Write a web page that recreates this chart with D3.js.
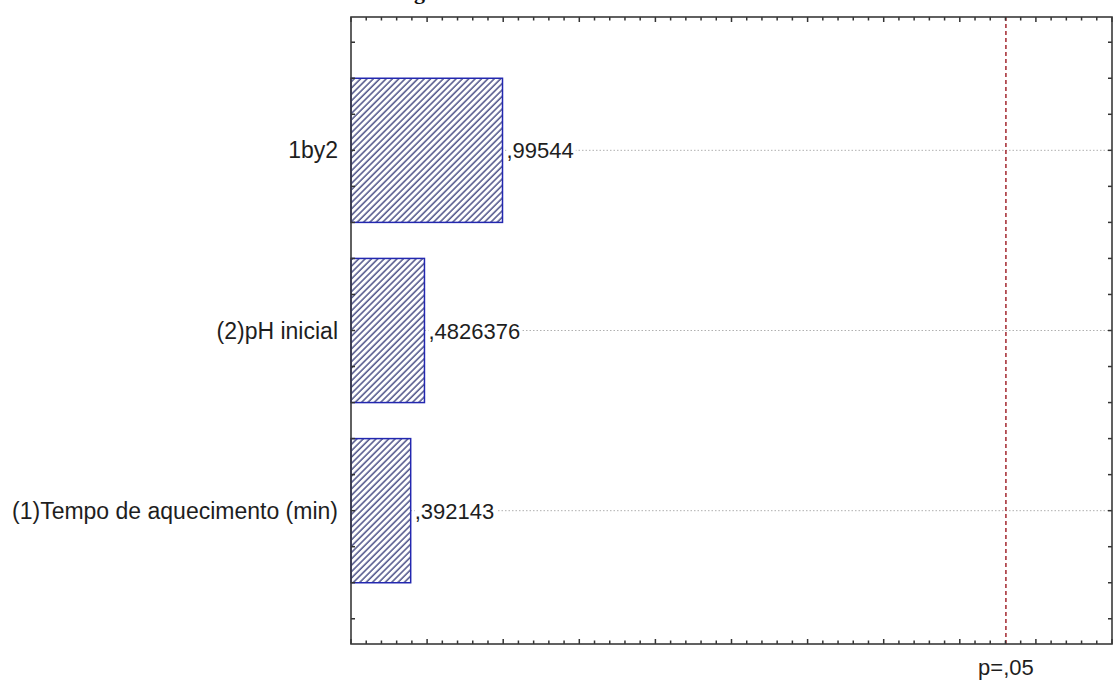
<!DOCTYPE html>
<html lang="pt">
<head>
<meta charset="UTF-8">
<script src="https://d3js.org/d3.v7.min.js"></script>
<style>
    body { margin: 0; background: #fff; }
    svg { display: block; }
    .lbl { font-family: "Liberation Sans", Arial, sans-serif; font-size: 22px; fill: #1e1e1e; }
    .cat { font-size: 23px; }
    .title { font-family: "Liberation Serif", "Times New Roman", serif; font-size: 22px; font-weight: bold; fill: #111; }
</style>
</head>
<body>
<div id="chart"></div>
<script>
    // data
    const categories = ["1by2", "(2)pH inicial", "(1)Tempo de aquecimento (min)"];
    const effects = [0.99544, 0.4826376, 0.392143];
    const valueLabels = [",99544", ",4826376", ",392143"];
    const pCritical = 4.303;
    const pLabel = "p=,05";
    const xMinorTicks = d3.range(0, 5.001, 0.1);
    const xMajorTicks = d3.range(0, 5.001, 0.5);
    const yTicks = d3.range(0.4, 3.61, 0.2);

    const W = 1120, H = 693;
    const margin = {top: 17, right: 8, bottom: 49, left: 351};
    const width = W - margin.left - margin.right;
    const height = H - margin.top - margin.bottom;

    const svg = d3.select("#chart").append("svg")
        .attr("width", W).attr("height", H);

    // hatch pattern for the bars
    svg.append("defs").append("pattern")
        .attr("id", "hatch")
        .attr("patternUnits", "userSpaceOnUse")
        .attr("width", 4.5).attr("height", 4.5)
        .attr("patternTransform", "rotate(45)")
        .call(p => {
            p.append("rect").attr("width", 4.5).attr("height", 4.5).attr("fill", "#fff");
            p.append("line").attr("x1", 1).attr("x2", 1).attr("y1", 0).attr("y2", 4.5)
                .attr("stroke", "#41467f").attr("stroke-width", 1.4);
        });

    // title, mostly cut off at the top edge (as in the source picture)
    svg.append("text").attr("class", "title")
        .attr("x", 381).attr("y", -1.5)
        .text("Diagrama de Pareto");

    const g = svg.append("g").attr("transform", `translate(${margin.left},${margin.top})`);

    const x = d3.scaleLinear().domain([0, 5]).range([0, width]);
    const y = d3.scaleLinear().domain([0.26, 3.74]).range([0, height]);

    // dotted grid lines at each effect
    g.selectAll(".grid").data(categories).enter().append("line")
        .attr("x1", 0).attr("x2", width)
        .attr("y1", (d, i) => y(i + 1)).attr("y2", (d, i) => y(i + 1))
        .attr("stroke", "#b0b0b0").attr("stroke-width", 1).attr("stroke-dasharray", "1.5,2");

    // critical value line
    g.append("line")
        .attr("x1", x(pCritical)).attr("x2", x(pCritical))
        .attr("y1", 0).attr("y2", height)
        .attr("stroke", "#a3262e").attr("stroke-width", 1.5).attr("stroke-dasharray", "4,3");

    // bars
    g.selectAll(".bar").data(effects).enter().append("rect")
        .attr("x", x(0))
        .attr("y", (d, i) => y(i + 1 - 0.4))
        .attr("width", d => x(d) - x(0))
        .attr("height", y(1.4) - y(0.6))
        .attr("fill", "url(#hatch)")
        .attr("stroke", "#2328b0").attr("stroke-width", 1.5);

    // value labels with white background to hide the grid
    const vl = g.selectAll(".val").data(effects).enter().append("g");
    const vt = vl.append("text").attr("class", "lbl")
        .attr("x", d => x(d) + 4)
        .attr("y", (d, i) => y(i + 1) + 8)
        .text((d, i) => valueLabels[i]);
    vt.each(function() {
        const b = this.getBBox();
        d3.select(this.parentNode).insert("rect", "text")
            .attr("x", b.x).attr("y", b.y).attr("width", b.width + 2).attr("height", b.height)
            .attr("fill", "#fff");
    });

    // category labels
    svg.selectAll(".cat").data(categories).enter().append("text")
        .attr("class", "lbl cat")
        .attr("text-anchor", "end")
        .attr("x", margin.left - 13)
        .attr("y", (d, i) => margin.top + y(i + 1) + 8)
        .text(d => d);

    // ticks inside the frame
    const tickColor = "#333";
    const isMajor = v => xMajorTicks.some(m => Math.abs(m - v) < 1e-6);
    [0, height].forEach(yy => {
        const dir = yy === 0 ? 1 : -1;
        g.selectAll(null).data(xMinorTicks).enter().append("line")
            .attr("x1", d => x(d)).attr("x2", d => x(d))
            .attr("y1", yy).attr("y2", d => yy + dir * (isMajor(d) ? 5 : 3.5))
            .attr("stroke", tickColor).attr("stroke-width", 1.5);
    });
    [0, width].forEach(xx => {
        const dir = xx === 0 ? 1 : -1;
        g.selectAll(null).data(yTicks).enter().append("line")
            .attr("x1", xx).attr("x2", xx + dir * 4)
            .attr("y1", d => y(d)).attr("y2", d => y(d))
            .attr("stroke", tickColor).attr("stroke-width", 1.5);
    });

    // frame
    g.append("rect")
        .attr("width", width).attr("height", height)
        .attr("fill", "none").attr("stroke", "#3a3a3a").attr("stroke-width", 1.6);

    // p label under the critical line
    g.append("text").attr("class", "lbl")
        .attr("text-anchor", "middle")
        .attr("x", x(pCritical))
        .attr("y", height + 31)
        .text(pLabel);
</script>
</body>
</html>
